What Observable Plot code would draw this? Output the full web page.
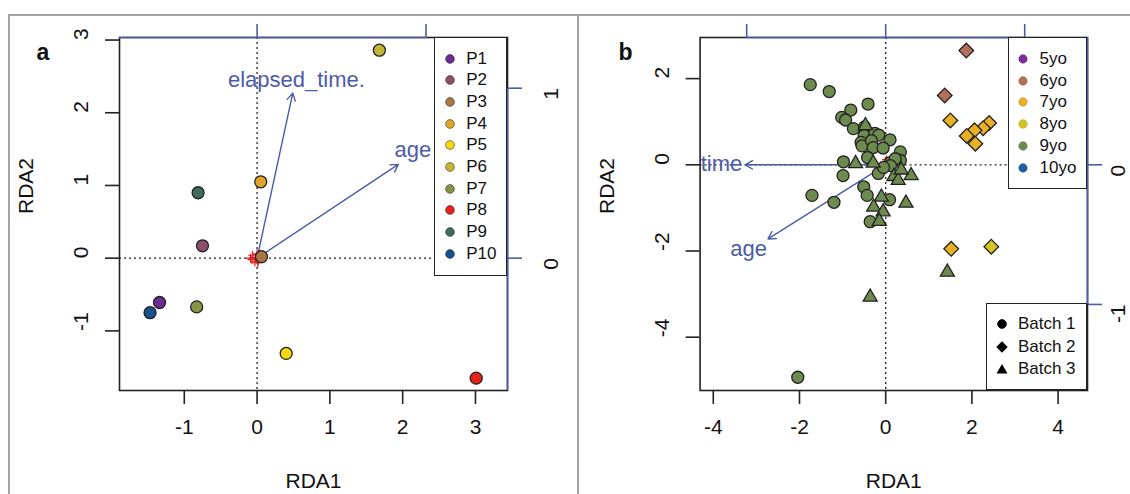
<!DOCTYPE html>
<html><head><meta charset="utf-8">
<script src="https://cdn.jsdelivr.net/npm/d3@7"></script>
<script src="https://cdn.jsdelivr.net/npm/@observablehq/plot@0.6"></script>
<style>
html,body{margin:0;padding:0;background:#fff;}
#page{position:relative;width:1130px;height:494px;overflow:hidden;font-family:"Liberation Sans",Arial,Helvetica,sans-serif;}
.panel{position:absolute;top:0;}
.rule{position:absolute;background:#a3a3a3;z-index:3;}
.legend{position:absolute;background:#fff;border:1.5px solid #222;box-sizing:border-box;z-index:2;}
.item{position:absolute;height:20px;line-height:20px;font-size:17px;color:#111;white-space:nowrap;}
</style></head><body><div id="page"></div>
<script>
// ---------- Panel a data ----------
const participants = ["P1","P2","P3","P4","P5","P6","P7","P8","P9","P10"];
const participantColors = ["#6a2c90","#8d4e6b","#a97648","#dea52a","#f7d80c","#c6b534","#879447","#e6221d","#3f6b5b","#1a4f8d"];
const rda1A = [-1.34,-0.75,0.06,0.05,0.40,1.68,-0.83,3.01,-0.81,-1.47];
const rda2A = [-0.61,0.17,0.02,1.05,-1.31,2.86,-0.67,-1.65,0.90,-0.75];
const speciesRda1A = [-0.09,-0.06,-0.03,0.00,0.02,0.04,-0.07,0.01,0.03,-0.02];
const speciesRda2A = [0.00,0.04,-0.05,0.06,-0.03,0.02,-0.02,-0.06,0.05,0.01];
const envNamesA = ["elapsed_time.","age"];
const envRda1A = [0.49,1.94];
const envRda2A = [2.27,1.29];
const envLabelRda1A = [0.54,2.14];
const envLabelRda2A = [2.45,1.49];
const xTicksA = [-1,0,1,2,3];
const yTicksA = [-1,0,1,2,3];

// ---------- Panel b data ----------
const ageGroups = ["5yo","6yo","7yo","8yo","9yo","10yo"];
const ageColors = ["#7b2f9c","#b36f57","#e8b024","#d4c422","#6d8b4f","#1e60a4"];
const batches = ["Batch 1","Batch 2","Batch 3"];
const batchSymbols = ["circle","diamond2","triangle"];
// Batch 1 (all 9yo)
const b1Rda1 = [-1.75,-1.31,-0.41,-0.81,-1.02,-0.93,-0.75,-0.49,-0.50,-0.25,-0.16,0.10,-0.57,-0.55,-0.33,-0.29,-0.06,0.34,-0.42,-0.98,0.11,0.34,0.22,-0.99,-0.17,0.11,-0.05,-0.51,-0.43,-1.71,-1.20,0.09,-0.36,-2.04];
const b1Rda2 = [1.86,1.70,1.41,1.27,1.10,1.04,0.84,0.88,0.68,0.73,0.69,0.58,0.52,0.44,0.56,0.40,0.39,0.30,0.17,0.07,0.05,0.10,0.14,-0.25,-0.20,-0.02,-0.06,-0.51,-0.71,-0.71,-0.87,-0.81,-1.32,-4.93];
// Batch 2 diamonds
const b2Rda1 = [1.87,1.37,1.50,2.40,2.26,2.06,1.88,2.08,1.52,2.45];
const b2Rda2 = [2.65,1.61,1.03,0.97,0.85,0.80,0.67,0.49,-1.95,-1.90];
const b2Age  = ["6yo","6yo","7yo","7yo","7yo","7yo","7yo","7yo","7yo","8yo"];
// Batch 3 triangles (all 9yo)
const b3Rda1 = [-0.47,-0.70,-0.29,0.19,0.29,0.59,0.36,-0.10,0.47,-0.28,-0.06,-0.15,1.43,-0.36];
const b3Rda2 = [0.91,0.03,0.04,-0.27,-0.36,-0.25,-0.12,-0.75,-0.89,-0.98,-1.09,-1.31,-2.49,-3.07];
const speciesRda1B = [0.02,-0.02,0.04];
const speciesRda2B = [0.12,0.05,0.02];
const envNamesB = ["time","age"];
const envRda1B = [-3.26,-2.73];
const envRda2B = [0.00,-1.72];
const envLabelRda1B = [-3.81,-3.18];
const envLabelRda2B = [0.02,-1.95];
const xTicksB = [-4,-2,0,2,4];
const yTicksB = [-4,-2,0,2];

const secTicks = [-1,0,1];

// ---------- shared ----------
const blue = "#4c5ba8";
const ink = "#222";
const font = "'Liberation Sans', Arial, Helvetica, sans-serif";
const page = document.getElementById("page");

function inDom(v, dom){ return v >= dom[0] && v <= dom[1]; }
function clamp(v, dom){ return Math.max(dom[0], Math.min(dom[1], v)); }

function buildPanel(cfg) {
  const {xDom, yDom, secX, secY, xTicks, yTicks, species, env, letter, colorDomain, colorRange,
         mL, mR, width, dotMarks, yLabDx, rightDx, letterDx} = cfg;
  const secXTicks = secTicks.map(s => s*secX).filter(v => inDom(v, xDom));
  const secYTicks = secTicks.map(s => s*secY).filter(v => inDom(v, yDom));
  const secYLabels = secTicks.filter(s => inDom(s*secY, yDom));
  const topLine = [{x1: clamp(d3.min(secTicks)*secX, xDom), x2: clamp(d3.max(secTicks)*secX, xDom), y: yDom[1]}];
  const rightLine = [{y1: clamp(d3.min(secTicks)*secY, yDom), y2: clamp(d3.max(secTicks)*secY, yDom), x: xDom[1]}];
  return Plot.plot({
    width, height: 494, marginLeft: mL, marginRight: mR, marginTop: 37, marginBottom: 104,
    style: {fontFamily: font, fontSize: "21px", background: "transparent", color: "#111"},
    x: {domain: xDom}, y: {domain: yDom},
    color: {domain: colorDomain, range: colorRange},
    symbol: {domain: batches, range: batchSymbols},
    marks: [
      Plot.ruleX([0], {stroke: ink, strokeDasharray: "2,3", strokeWidth: 1.3}),
      Plot.ruleY([0], {stroke: ink, strokeDasharray: "2,3", strokeWidth: 1.3}),
      Plot.frame({stroke: ink, strokeWidth: 1.6}),
      Plot.axisX({ticks: xTicks, tickSize: 14, fill: "none", stroke: ink, strokeWidth: 1.6}),
      Plot.axisY({ticks: yTicks, tickSize: 14, fill: "none", stroke: ink, strokeWidth: 1.6}),
      Plot.ruleY(topLine, {y: "y", x1: "x1", x2: "x2", stroke: blue, strokeWidth: 1.6}),
      Plot.ruleX(rightLine, {x: "x", y1: "y1", y2: "y2", stroke: blue, strokeWidth: 1.6}),
      Plot.axisX({anchor: "top", ticks: secXTicks, tickSize: 14, fill: "none", stroke: blue, strokeWidth: 1.6}),
      Plot.axisY({anchor: "right", ticks: secYTicks, tickSize: 14, fill: "none", stroke: blue, strokeWidth: 1.6}),
      Plot.arrow(env, {x1: 0, y1: 0, x2: "x", y2: "y", stroke: blue, strokeWidth: 1.4, headLength: 9}),
      Plot.text(env, {x: "lx", y: "ly", text: "name", fill: blue, fontSize: 22}),
      Plot.dot(species, {x: "x", y: "y", symbol: "plus", r: 3, stroke: "#e5191b", strokeWidth: 1.2}),
      ...dotMarks,
      Plot.text(xTicks, {x: d => d, frameAnchor: "bottom", dy: 43, text: d => String(d), fontSize: 21, fill: "#111"}),
      Plot.text(yTicks, {y: d => d, frameAnchor: "left", dx: -38, rotate: -90, text: d => String(d), fontSize: 21, fill: "#111"}),
      Plot.text(secYLabels, {y: d => d*secY, frameAnchor: "right", dx: rightDx, rotate: -90, text: d => String(d), fontSize: 21, fill: "#111"}),
      Plot.text(["RDA1"], {frameAnchor: "bottom", dy: 97, text: d => d, fontSize: 21, fill: "#111"}),
      Plot.text(["RDA2"], {frameAnchor: "left", dx: yLabDx, rotate: -90, text: d => d, fontSize: 21, fill: "#111"}),
      Plot.text([letter], {frameAnchor: "top-left", dx: letterDx, dy: 6, text: d => d, fontSize: 23, fontWeight: "bold", fill: "#111"})
    ]
  });
}

// ---------- Panel a ----------
const samplesA = participants.map((p, i) => ({p, x: rda1A[i], y: rda2A[i]}));
const envA = envNamesA.map((name, i) => ({name, x: envRda1A[i], y: envRda2A[i], lx: envLabelRda1A[i], ly: envLabelRda2A[i]}));
const speciesA = speciesRda1A.map((x, i) => ({x, y: speciesRda2A[i]}));
const svgA = buildPanel({
  xDom: [-1.89, 3.44], yDom: [-1.82, 3.035], secX: 2.321, secY: 2.338,
  xTicks: xTicksA, yTicks: yTicksA, env: envA, species: speciesA, letter: "a",
  colorDomain: participants, colorRange: participantColors,
  mL: 119, mR: 71, width: 578, yLabDx: -93, rightDx: 44, letterDx: -83,
  dotMarks: [Plot.dot(samplesA, {x: "x", y: "y", fill: "p", r: 6, stroke: ink, strokeWidth: 1.3})]
});
svgA.classList.add("panel"); svgA.style.left = "0px";
page.appendChild(svgA);

// ---------- Panel b ----------
const samplesB = [
  ...b1Rda1.map((x, i) => ({x, y: b1Rda2[i], age: "9yo", batch: "Batch 1"})),
  ...b2Rda1.map((x, i) => ({x, y: b2Rda2[i], age: b2Age[i], batch: "Batch 2"})),
  ...b3Rda1.map((x, i) => ({x, y: b3Rda2[i], age: "9yo", batch: "Batch 3"}))
];
const envB = envNamesB.map((name, i) => ({name, x: envRda1B[i], y: envRda2B[i], lx: envLabelRda1B[i], ly: envLabelRda2B[i]}));
const speciesB = speciesRda1B.map((x, i) => ({x, y: speciesRda2B[i]}));
const svgB = buildPanel({
  xDom: [-4.306, 4.682], yDom: [-5.237, 2.954], secX: 3.225, secY: 3.24,
  xTicks: xTicksB, yTicks: yTicksB, env: envB, species: speciesB, letter: "b",
  colorDomain: ageGroups, colorRange: ageColors,
  mL: 121.6, mR: 43, width: 552, yLabDx: -93, rightDx: 31, letterDx: -81.6,
  dotMarks: [
    Plot.dot(samplesB.filter(d => d.batch === "Batch 1"), {x: "x", y: "y", fill: "age", symbol: "batch", r: 6, stroke: ink, strokeWidth: 1.3}),
    Plot.dot(samplesB.filter(d => d.batch === "Batch 3"), {x: "x", y: "y", fill: "age", symbol: "batch", r: 5.2, stroke: ink, strokeWidth: 1.3}),
    Plot.dot(samplesB.filter(d => d.batch === "Batch 2"), {x: "x", y: "y", fill: "age", symbol: "batch", r: 6.6, stroke: ink, strokeWidth: 1.3})
  ]
});
svgB.classList.add("panel"); svgB.style.left = "578px";
page.appendChild(svgB);

// ---------- legends (HTML) ----------
function shapeSvg(kind, color, stroke) {
  if (kind === "circle") return `<circle cx="7" cy="7" r="4.4" fill="${color}" stroke="${stroke}" stroke-width="0.8"/>`;
  if (kind === "diamond2") return `<path d="M7,1.3L12.7,7L7,12.7L1.3,7Z" fill="${color}"/>`;
  return `<path d="M7,2L12.5,11.5L1.5,11.5Z" fill="${color}"/>`;
}
function legendBox({left, top, width, height, symX, textX, rowY, items}) {
  const box = document.createElement("div");
  box.className = "legend";
  Object.assign(box.style, {left: left + "px", top: top + "px", width: width + "px", height: height + "px"});
  items.forEach((it, i) => {
    const cy = rowY[i];
    const s = document.createElement("div");
    s.innerHTML = `<svg width="14" height="14" style="position:absolute;left:${symX - 7}px;top:${cy - 7}px;overflow:visible">${shapeSvg(it.kind, it.color, it.stroke)}</svg>`;
    box.appendChild(s.firstChild);
    const t = document.createElement("div");
    t.className = "item";
    t.textContent = it.label;
    Object.assign(t.style, {left: textX + "px", top: (cy - 10) + "px"});
    box.appendChild(t);
  });
  page.appendChild(box);
}
legendBox({left: 434, top: 37, width: 73, height: 239, symX: 14.5, textX: 31.2,
  rowY: participants.map((_, i) => 20.5 + 21.7 * i),
  items: participants.map((p, i) => ({label: p, kind: "circle", color: participantColors[i], stroke: "rgba(0,0,0,0.55)"}))});
legendBox({left: 1007.6, top: 37, width: 79.4, height: 152, symX: 14.9, textX: 30.9,
  rowY: ageGroups.map((_, i) => 20.8 + 21.8 * i),
  items: ageGroups.map((a, i) => ({label: a, kind: "circle", color: ageColors[i], stroke: "rgba(0,0,0,0.15)"}))});
legendBox({left: 985.8, top: 303.3, width: 101.2, height: 86.7, symX: 15.4, textX: 31.1,
  rowY: [20.2, 42.5, 64.5],
  items: batches.map((b, i) => ({label: b, kind: batchSymbols[i], color: "#000", stroke: "#000"}))});

// ---------- figure frame lines ----------
[[8, 14, 1122, 2], [8, 14, 2, 480], [577.3, 14, 2, 480]].forEach(([l, t, w, h]) => {
  const r = document.createElement("div");
  r.className = "rule";
  Object.assign(r.style, {left: l + "px", top: t + "px", width: w + "px", height: h + "px"});
  page.appendChild(r);
});
</script></body></html>
